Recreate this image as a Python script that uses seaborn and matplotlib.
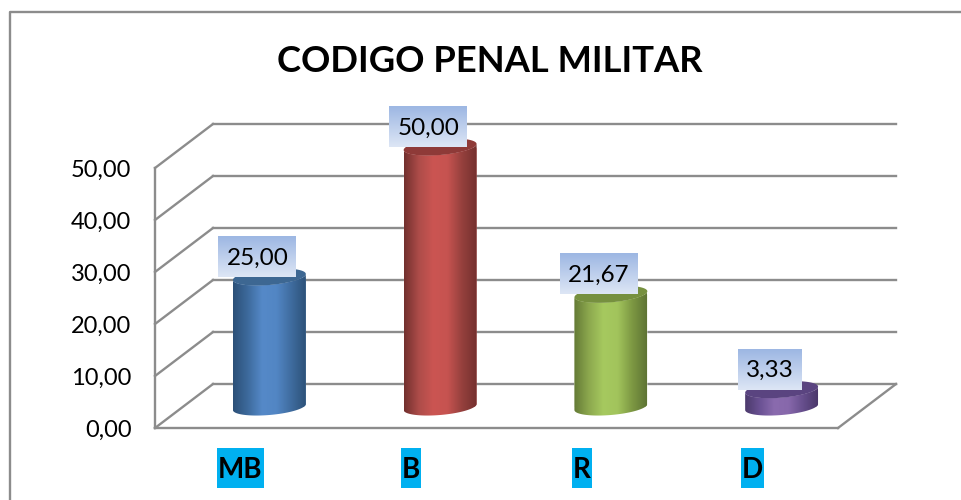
import numpy as np
import pandas as pd
import matplotlib
matplotlib.use('Agg')
import matplotlib.pyplot as plt
import seaborn as sns
from matplotlib.colors import LinearSegmentedColormap
from matplotlib.patches import PathPatch, Rectangle
from matplotlib.path import Path

categories = ['MB', 'B', 'R', 'D']
values = [25.00, 50.00, 21.67, 3.33]
value_labels = ['25,00', '50,00', '21,67', '3,33']
y_ticks = [0, 10, 20, 30, 40, 50]
y_tick_labels = ['0,00', '10,00', '20,00', '30,00', '40,00', '50,00']
title = 'CODIGO PENAL MILITAR'

bar_colors = ['#4F81BD', '#C0504D', '#9BBB59', '#8064A2']
bar_ramps = [
    ['#2C5078', '#3D6A9C', '#5589C8', '#5286C4', '#3F6C9F', '#2D5279'],
    ['#72302E', '#AD4C49', '#CB5552', '#C65350', '#95403D', '#74302E'],
    ['#647A36', '#8CA84E', '#A6C95F', '#A2C45C', '#7D9843', '#5F7534'],
    ['#4C3A6C', '#6A5193', '#8A6BAE', '#8768AB', '#664E8C', '#4B386B'],
]
top_colors = ['#3D6792', '#8E3A38', '#76903F', '#5A4480']

W, H = 961, 500
FRONT_L, FRONT_R, FRONT_BOT, FRONT_TOP = 155, 838, 428, 168
DEPTH_X, DEPTH_Y = 58, 44
MID_X, MID_Y = 29, 21
GREY = '#8C8C8C'

sns.set_theme(style='white')
plt.rcParams['font.family'] = ['Lato', 'DejaVu Sans']


def axes_rect(left, right, bottom, top):
    return [left / W, (H - bottom) / H, (right - left) / W, (bottom - top) / H]


fig = plt.figure(figsize=(W / 100, H / 100), dpi=100, facecolor='white')

# front plane carries the axis text, the walls are offset from it
ax = fig.add_axes(axes_rect(FRONT_L, FRONT_R, FRONT_BOT, FRONT_TOP), zorder=1)
ax.set_xlim(-0.5, 3.5)
ax.set_ylim(0, 50)
ax.patch.set_visible(False)
sns.despine(ax=ax, left=True, bottom=True)
ax.set_xticks(range(len(categories)))
ax.set_xticklabels(categories, fontsize=20, fontweight='bold', color='black')
ax.set_yticks(y_ticks)
ax.set_yticklabels(y_tick_labels, fontsize=17, color='black')
ax.tick_params(axis='y', length=0, pad=17)
ax.tick_params(axis='x', length=0, pad=21)

dx = DEPTH_X / ((FRONT_R - FRONT_L) / 4)
dy = DEPTH_Y / ((FRONT_BOT - FRONT_TOP) / 50)
line_kw = dict(color=GREY, lw=1.7, clip_on=False, solid_capstyle='projecting')
for v in y_ticks:
    ax.plot([-0.5 + dx, 3.5 + dx], [v + dy, v + dy], **line_kw)
    ax.plot([-0.5, -0.5 + dx], [v, v + dy], **line_kw)
ax.plot([-0.5, -0.5], [0, 50], **line_kw)
ax.plot([-0.5, 3.5], [0, 0], **line_kw)
ax.plot([3.5, 3.5 + dx], [0, dy], **line_kw)

# bars stand halfway into the floor
ax_bars = fig.add_axes(axes_rect(FRONT_L + MID_X, FRONT_R + MID_X,
                                 FRONT_BOT - MID_Y, FRONT_TOP - MID_Y), zorder=2)
df = pd.DataFrame({'category': categories, 'value': values})
sns.barplot(data=df, x='category', y='value', hue='category', palette=bar_colors,
            order=categories, width=0.427, legend=False, ax=ax_bars, saturation=1)
ax_bars.set_xlim(-0.5, 3.5)
ax_bars.set_ylim(0, 50)
ax_bars.axis('off')

# pixel overlay, y pointing down like the picture
px = fig.add_axes([0, 0, 1, 1], zorder=3)
px.set_xlim(0, W)
px.set_ylim(H, 0)
px.axis('off')

px.plot([10, 10, W], [H, 12, 12], color=GREY, lw=1.7)
px.text(490, 61, title, fontsize=26.2, fontweight='bold', color='black',
        ha='center', va='center')

to_px = ax_bars.transData + px.transData.inverted()
SHEAR, MINOR = 3, 8
t_low = np.linspace(np.pi, 0, 60)
t_full = np.linspace(0, 2 * np.pi, 120)


def ellipse_pts(cx, cy, a, t):
    return np.column_stack([cx + a * np.cos(t), cy + MINOR * np.sin(t) - SHEAR * np.cos(t)])


box_ramp = LinearSegmentedColormap.from_list('box', ['#9DB7E3', '#DDE6F5'])
for i, bar in enumerate(ax_bars.patches[:len(values)]):
    x0, y_top = to_px.transform((bar.get_x(), bar.get_height()))
    x1, y_bot = to_px.transform((bar.get_x() + bar.get_width(), 0))
    cx, a = (x0 + x1) / 2, (x1 - x0) / 2

    body = np.vstack([ellipse_pts(cx, y_bot, a, t_low),
                      ellipse_pts(cx, y_top, a, t_low[::-1])])
    clip = PathPatch(Path(np.vstack([body, body[:1]]), closed=True), transform=px.transData)
    bar.set_clip_path(clip.get_path(), px.transData)

    ramp = LinearSegmentedColormap.from_list('cyl', bar_ramps[i])
    img = px.imshow(np.linspace(0, 1, 128)[None, :], cmap=ramp, aspect='auto',
                    extent=(x0, x1, y_bot + MINOR + SHEAR + 1, y_top - MINOR - SHEAR - 1),
                    interpolation='bilinear', zorder=2)
    img.set_clip_path(clip.get_path(), px.transData)
    px.fill(*ellipse_pts(cx, y_top, a, t_full).T, color=top_colors[i], lw=0, zorder=3)

    # gradient box of the value label sits on the bar top, a bit to the left
    box_w = 64 if len(value_labels[i]) == 4 else 78
    bx = cx - 12
    px.imshow(np.linspace(0, 1, 64)[:, None], cmap=box_ramp, aspect='auto',
              extent=(bx - box_w / 2, bx + box_w / 2, y_top, y_top - 41),
              interpolation='bilinear', zorder=4)
    px.text(bx, y_top - 19, value_labels[i], fontsize=17.5, color='black',
            ha='center', va='center', zorder=5)
px.set_xlim(0, W)
px.set_ylim(H, 0)

# cyan highlight behind the category labels
fig.canvas.draw()
for lab in ax.get_xticklabels():
    bb = lab.get_window_extent()
    fig.add_artist(Rectangle((bb.x0 - 1, H - 488), bb.width + 2, 40, transform=None,
                             color='#00B0F0', lw=0, zorder=0))

fig.savefig('out.png', dpi=100)
plt.close(fig)
